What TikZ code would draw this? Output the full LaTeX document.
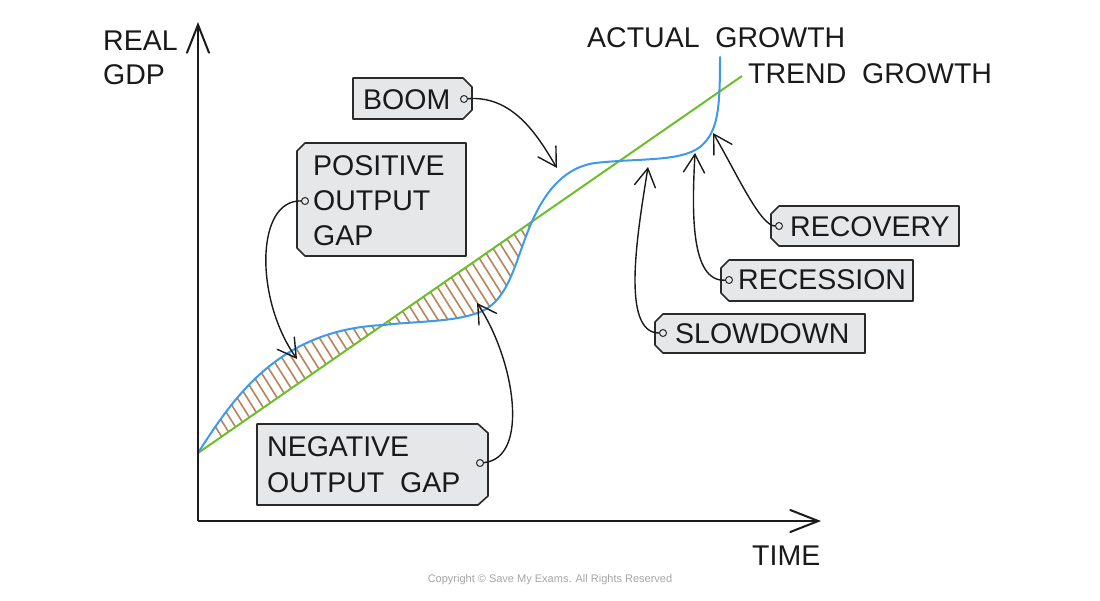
\documentclass[tikz,border=0pt]{standalone}
\usepackage{fontspec}
\setmainfont[WordSpace=2]{Liberation Sans}
\newfontfamily\plainfont{Liberation Sans}
\usetikzlibrary{arrows.meta}
\definecolor{gdpblue}{HTML}{3D99EE}
\definecolor{trendgreen}{HTML}{6CBF2A}
\definecolor{hatchbrown}{HTML}{B8845A}
\definecolor{tagfill}{HTML}{E6E7E8}
\definecolor{tagline}{HTML}{2A2A2A}
\definecolor{inkcol}{HTML}{1A1A1A}
\tikzset{
  lbl/.style={inner sep=0pt, anchor=base west, text=inkcol, font=\fontsize{28.5}{34}\selectfont},
  tagbox/.style={draw=tagline, fill=tagfill, line width=1.6pt, line join=round},
  hole/.style={circle, draw=tagline, fill=tagfill, line width=1pt, minimum size=7pt, inner sep=0pt},
  ptr/.style={draw=inkcol, line width=1.4pt, line cap=round,
    -{Straight Barb[length=18pt,width=21pt,line width=1.4pt,line cap=round]}},
  axis/.style={draw=inkcol, line width=2pt,
    -{Straight Barb[length=28pt,width=22pt,line width=2pt,line cap=round]}},
  hatch/.style={draw=hatchbrown, line width=1.6pt},
}
\def\pieceA{(198,453) .. controls (235,395) and (280,330) .. (383,325) .. controls (420,321) and (455,322) .. (480,312) .. controls (510,300) and (515,260) .. (532,221.5)}
\def\pieceB{(532,221.5) .. controls (542,199) and (560,168) .. (595,163) .. controls (640,158) and (680,162) .. (700,147) .. controls (718,132) and (720,110) .. (720,57)}
\begin{document}
\begin{tikzpicture}[x=1pt,y=-1pt]
\useasboundingbox (0,0) rectangle (1100,600);
\fill[white] (0,0) rectangle (1100,600);

% hatched gaps
\begin{scope}
  \clip \pieceA -- cycle;
  \foreach \i in {0,...,60}{
    \draw[hatch] ({60+\i*10},180) -- ++(170,270);
  }
\end{scope}

% trend and actual growth
\draw[trendgreen, line width=2pt] (198,453) -- (742,76);
\draw[gdpblue, line width=2pt, line cap=round] \pieceA;
\draw[gdpblue, line width=2pt, line cap=round] \pieceB;

% axes
\coordinate (origin) at (198,521);
\coordinate (ytip) at (198,22);
\coordinate (xtip) at (821,521);
\draw[axis] (origin) -- (ytip);
\draw[axis] (origin) -- (xtip);

% axis labels
\node[lbl] (real) at (103,50) {REAL};
\node[lbl] (gdp) at (103,84) {GDP};
\node[lbl] (time) at (752,565) {TIME};
\node[lbl] (actual) at (587,47) {ACTUAL GROWTH};
\node[lbl] (trend) at (748,83) {TREND GROWTH};

% tags
\draw[tagbox] (353,78) -- (463,78) -- (472,87) -- (472,110) -- (463,119) -- (353,119) -- cycle;
\node[lbl] (boom) at (363,109) {BOOM};
\node[hole] (hboom) at (464,99) {};

\draw[tagbox] (305,143) -- (466,143) -- (466,256) -- (305,256) -- (297,248) -- (297,151) -- cycle;
\node[lbl] (pos1) at (313,175) {POSITIVE};
\node[lbl] (pos2) at (313,210) {OUTPUT};
\node[lbl] (pos3) at (313,245) {GAP};
\node[hole] (hpos) at (305,201) {};

\draw[tagbox] (257,424) -- (478,424) -- (488,433) -- (488,496) -- (478,505) -- (257,505) -- cycle;
\node[lbl] (neg1) at (267,456) {NEGATIVE};
\node[lbl] (neg2) at (267,492) {OUTPUT GAP};
\node[hole] (hneg) at (480,463) {};

\draw[tagbox] (779,206) -- (959,206) -- (959,246) -- (779,246) -- (771,238) -- (771,214) -- cycle;
\node[lbl] (recovery) at (790,236) {RECOVERY};
\node[hole] (hrec) at (779,226) {};

\draw[tagbox] (729,260) -- (913,260) -- (913,301) -- (729,301) -- (721,293) -- (721,268) -- cycle;
\node[lbl] (recession) at (738,289) {RECESSION};
\node[hole] (hrcs) at (729,280) {};

\draw[tagbox] (663,314) -- (865,314) -- (865,353) -- (663,353) -- (655,345) -- (655,322) -- cycle;
\node[lbl] (slowdown) at (675,343) {SLOWDOWN};
\node[hole] (hslow) at (663,333) {};

% pointer targets
\coordinate (tboom) at (557,168);
\coordinate (tpos) at (297,359);
\coordinate (tneg) at (477,303);
\coordinate (trec) at (713,133);
\coordinate (trcs) at (695,153);
\coordinate (tslow) at (648,167);

\draw[ptr] (hboom) .. controls (515,95) and (540,140) .. (tboom);
\draw[ptr] (hpos) .. controls (255,200) and (255,300) .. (tpos);
\draw[ptr] (hneg) .. controls (530,458) and (515,360) .. (tneg);
\draw[ptr] (hrec) .. controls (760,226) and (735,170) .. (trec);
\draw[ptr] (hrcs) .. controls (690,282) and (692,210) .. (trcs);
\draw[ptr] (hslow) .. controls (620,333) and (638,230) .. (tslow);

\node[text=black!35, font=\plainfont\fontsize{11}{13}\selectfont, inner sep=0pt] (copy) at (550,580) {Copyright © Save My Exams. All Rights Reserved};
\end{tikzpicture}
\end{document}
